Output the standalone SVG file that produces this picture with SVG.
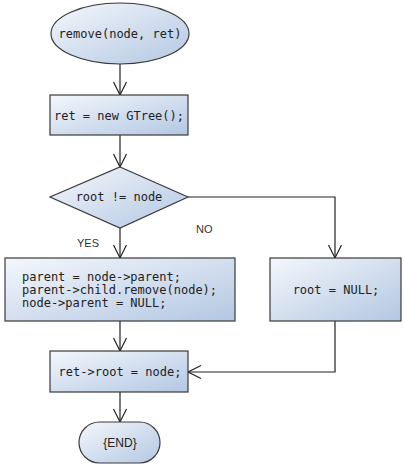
<svg xmlns="http://www.w3.org/2000/svg" width="405" height="467" viewBox="0 0 405 467">
<defs>
<linearGradient id="g" x1="0" y1="0" x2="1" y2="1">
<stop offset="0" stop-color="#f4f7fc"/>
<stop offset="1" stop-color="#b3c7e2"/>
</linearGradient>
<marker id="a" markerUnits="userSpaceOnUse" markerWidth="16" markerHeight="16" viewBox="-14 -8 16 16" refX="0" refY="0" orient="auto">
<path d="M-13,-6.5 L0,0 L-13,6.5" fill="none" stroke="#222" stroke-width="1.2"/>
</marker>
</defs>
<style>
.n{fill:url(#g);stroke:#3a3a3a;stroke-width:1.2}
.t{font-family:"DejaVu Sans Mono","Liberation Mono",monospace;font-size:12px;fill:#222}
.l{font-family:"Liberation Sans",Arial,sans-serif;font-size:11px;fill:#333}
.c{fill:none;stroke:#222;stroke-width:1.2}
</style>
<rect width="405" height="467" fill="#fff"/>
<g id="connectors">
<path class="c" d="M120,64 V95" marker-end="url(#a)"/>
<path class="c" d="M120,135 V167" marker-end="url(#a)"/>
<path class="c" d="M120,228 V258" marker-end="url(#a)"/>
<path class="c" d="M188,197 H335 V258" marker-end="url(#a)"/>
<path class="c" d="M120,321 V351" marker-end="url(#a)"/>
<path class="c" d="M335,321 V372 H188" marker-end="url(#a)"/>
<path class="c" d="M120,392 V422" marker-end="url(#a)"/>
<text class="l" x="77" y="247">YES</text>
<text class="l" x="196" y="233">NO</text>
</g>
<g id="start">
<ellipse class="n" cx="120" cy="33.5" rx="69" ry="30.5"/>
<text class="t" x="120" y="38" text-anchor="middle">remove(node, ret)</text>
</g>
<g id="newtree">
<rect class="n" x="50" y="95" width="138" height="40"/>
<text class="t" x="119" y="120" text-anchor="middle">ret = new GTree();</text>
</g>
<g id="decision">
<polygon class="n" points="120,167 188,197 120,228 50,197"/>
<text class="t" x="119" y="201" text-anchor="middle">root != node</text>
</g>
<g id="detach">
<rect class="n" x="5" y="258" width="230" height="63"/>
<text class="t" x="22" y="281">parent = node-&gt;parent;</text>
<text class="t" x="22" y="294">parent-&gt;child.remove(node);</text>
<text class="t" x="22" y="307">node-&gt;parent = NULL;</text>
</g>
<g id="rootnull">
<rect class="n" x="270" y="258" width="131" height="63"/>
<text class="t" x="336" y="294" text-anchor="middle">root = NULL;</text>
</g>
<g id="setroot">
<rect class="n" x="50" y="351" width="138" height="41"/>
<text class="t" x="120" y="376" text-anchor="middle">ret-&gt;root = node;</text>
</g>
<g id="end">
<rect class="n" x="79" y="422" width="81" height="41" rx="20.5" ry="20.5"/>
<text class="l" x="120" y="447" text-anchor="middle" style="font-size:12px;fill:#222">{END}</text>
</g>
</svg>
